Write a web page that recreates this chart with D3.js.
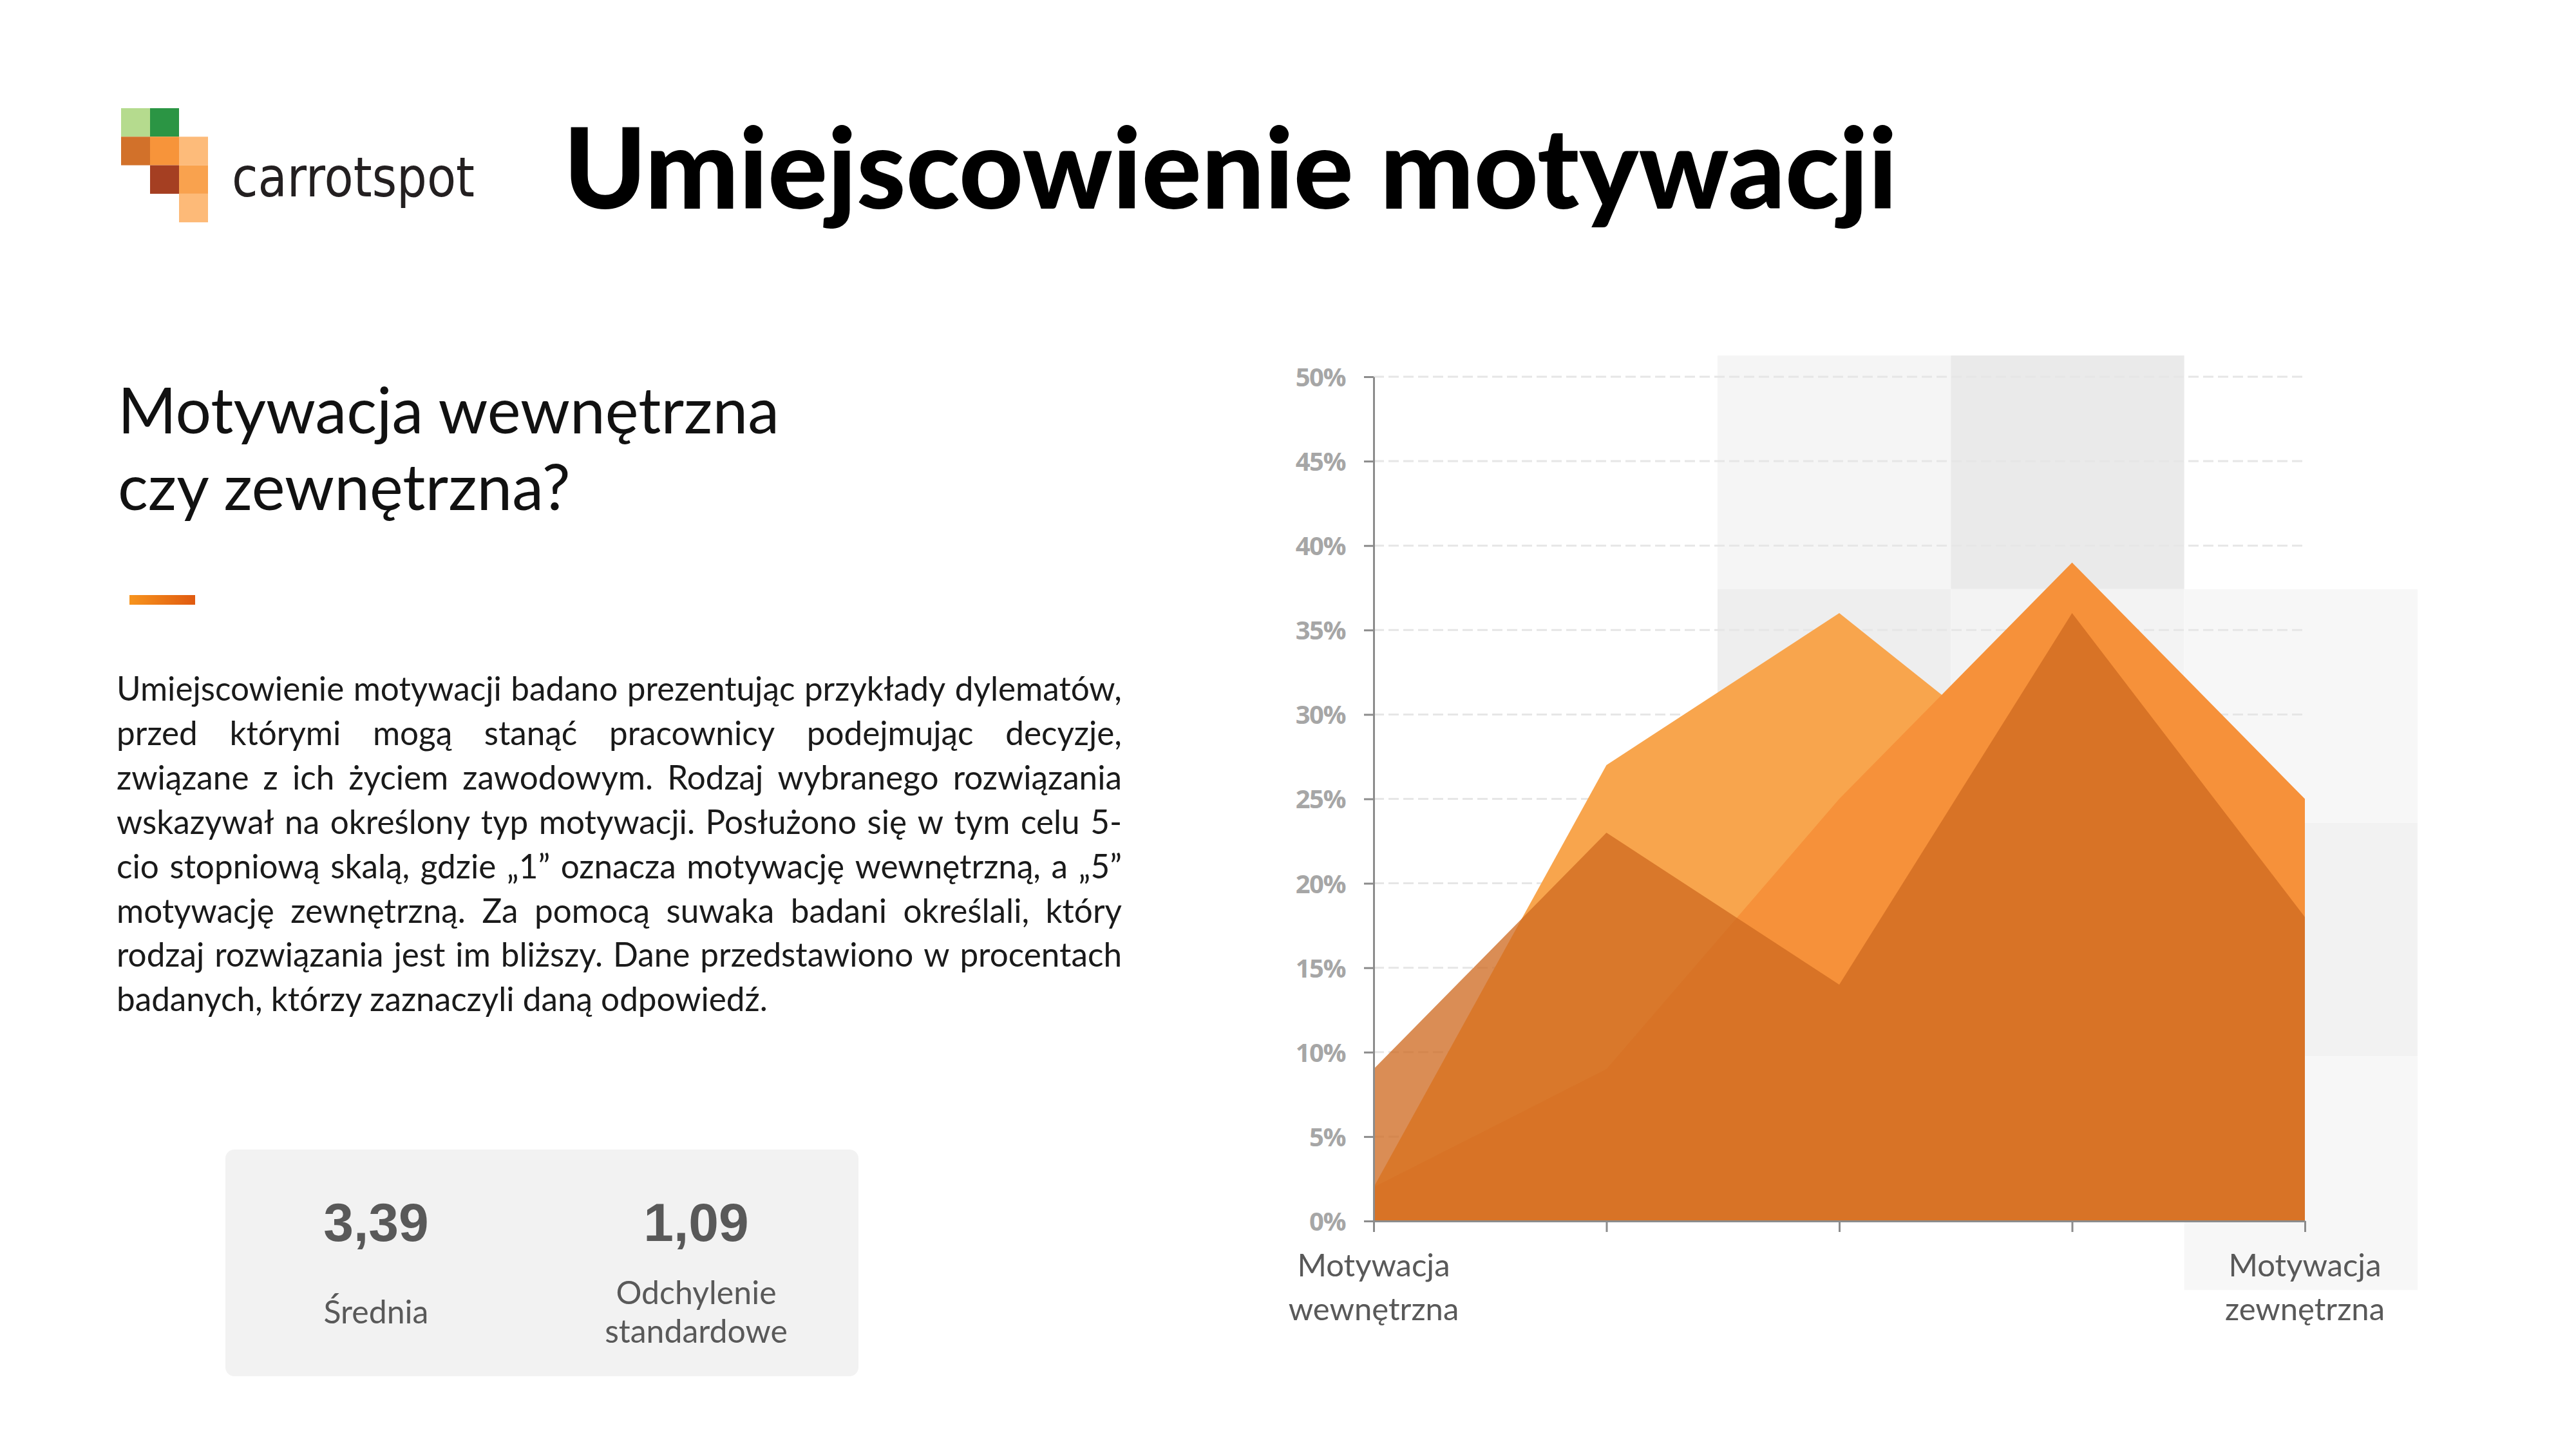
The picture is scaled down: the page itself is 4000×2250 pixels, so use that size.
<!DOCTYPE html>
<html>
<head>
<meta charset="utf-8">
<script src="https://cdn.jsdelivr.net/npm/d3@7/dist/d3.min.js"></script>
<style>
	html, body { margin: 0; padding: 0; background: #fff; }
	svg { display: block; }
</style>
</head>
<body>
<svg id="chart" width="4000" height="2250"></svg>
<script>
// data
var categories = [1, 2, 3, 4, 5];
var xLabels = [['Motywacja', 'wewnętrzna'], null, null, null, ['Motywacja', 'zewnętrzna']];
var yTicks = [0, 5, 10, 15, 20, 25, 30, 35, 40, 45, 50];
var seriesLight = [2, 27, 36, 25, 10];
var seriesMid = [2, 9, 25, 39, 25];
var seriesDark = [9, 23, 14, 36, 18];
var statValues = ['3,39', '1,09'];
var statLabels = [['Średnia'], ['Odchylenie', 'standardowe']];

var title = 'Umiejscowienie motywacji';
var subtitle = ['Motywacja wewnętrzna', 'czy zewnętrzna?'];
var paragraph = [
	'Umiejscowienie motywacji badano prezentując przykłady dylematów,',
	'przed którymi mogą stanąć pracownicy podejmując decyzje,',
	'związane z ich życiem zawodowym. Rodzaj wybranego rozwiązania',
	'wskazywał na określony typ motywacji. Posłużono się w tym celu 5-',
	'cio stopniową skalą, gdzie „1” oznacza motywację wewnętrzną, a „5”',
	'motywację zewnętrzną. Za pomocą suwaka badani określali, który',
	'rodzaj rozwiązania jest im bliższy. Dane przedstawiono w procentach',
	'badanych, którzy zaznaczyli daną odpowiedź.'
];

var svg = d3.select('#chart');
var sans = 'Lato, "Open Sans", sans-serif';

// scale a text so it spans a given width
function fitWidth(sel, target) {
	var fs = parseFloat(sel.attr('font-size'));
	var w = sel.node().getComputedTextLength();
	sel.attr('font-size', fs * target / w);
	return fs * target / w;
}

// width of a string in the paragraph font
function measure(str, fs) {
	var t = svg.append('text')
		.text(str)
		.attr('font-family', sans)
		.attr('font-size', fs);
	var w = t.node().getComputedTextLength();
	t.remove();
	return w;
}

/* Logo */
var logoCells = [
	[0, 0, '#b5db8e'], [1, 0, '#2b9544'],
	[0, 1, '#d2712a'], [1, 1, '#f7943a'], [2, 1, '#fdbb7a'],
	[1, 2, '#a53f22'], [2, 2, '#f9a24e'],
	[2, 3, '#fdba78']
];
svg.append('g')
	.attr('transform', 'translate(188,168)')
	.selectAll('rect')
	.data(logoCells)
	.enter().append('rect')
		.attr('x', function (d) { return d[0] * 45; })
		.attr('y', function (d) { return d[1] * 44.3; })
		.attr('width', 45)
		.attr('height', 44.3)
		.attr('fill', function (d) { return d[2]; });

svg.append('text')
	.text('carrotspot')
	.attr('x', 360)
	.attr('y', 305)
	.attr('font-family', '"DejaVu Sans", sans-serif')
	.attr('font-size', 86)
	.attr('fill', '#231f20')
	.attr('textLength', 377)
	.attr('lengthAdjust', 'spacingAndGlyphs');

/* Title */
svg.append('text')
	.text(title)
	.attr('x', 875)
	.attr('y', 324)
	.attr('font-family', sans)
	.attr('font-weight', 900)
	.attr('font-size', 174)
	.attr('fill', '#000')
	.attr('textLength', 2071)
	.attr('lengthAdjust', 'spacingAndGlyphs');

/* Subtitle */
var sub1 = svg.append('text')
	.text(subtitle[0])
	.attr('x', 183)
	.attr('y', 673)
	.attr('font-family', sans)
	.attr('font-size', 96)
	.attr('fill', '#111');
var subFs = fitWidth(sub1, 1027);
svg.append('text')
	.text(subtitle[1])
	.attr('x', 183)
	.attr('y', 792)
	.attr('font-family', sans)
	.attr('font-size', subFs)
	.attr('fill', '#111');

var grad = svg.append('defs').append('linearGradient').attr('id', 'dash');
grad.append('stop').attr('offset', '0%').attr('stop-color', '#f7941d');
grad.append('stop').attr('offset', '100%').attr('stop-color', '#e05a10');
svg.append('rect')
	.attr('x', 201).attr('y', 924)
	.attr('width', 102).attr('height', 15)
	.attr('fill', 'url(#dash)');

/* Paragraph, justified */
var parLeft = 181, parWidth = 1561, parTop = 1088, parLead = 68.9;
var parFs = 100 * (parWidth - 8) / measure(paragraph[0], 100);

var par = svg.append('g')
	.attr('font-family', sans)
	.attr('font-size', parFs)
	.attr('fill', '#1a1a1a');

paragraph.forEach(function (line, i) {
	var yy = parTop + i * parLead;
	if (i === paragraph.length - 1) {
		par.append('text').attr('x', parLeft).attr('y', yy).text(line);
		return;
	}
	var words = line.split(' ');
	var widths = words.map(function (w) { return measure(w, parFs); });
	var gap = (parWidth - d3.sum(widths)) / (words.length - 1);
	var xx = parLeft;
	words.forEach(function (w, k) {
		par.append('text').attr('x', xx).attr('y', yy).text(w);
		xx += widths[k] + gap;
	});
});

/* Stats box */
svg.append('rect')
	.attr('x', 350).attr('y', 1785)
	.attr('width', 983).attr('height', 352)
	.attr('rx', 14)
	.attr('fill', '#f2f2f2');

var statX = [584, 1081];
statValues.forEach(function (v, i) {
	svg.append('text')
		.text(v)
		.attr('x', statX[i])
		.attr('y', 1927)
		.attr('text-anchor', 'middle')
		.attr('font-family', '"Liberation Sans", Arial, sans-serif')
		.attr('font-weight', 700)
		.attr('font-size', 84)
		.attr('fill', '#595959');
});
var statBase = [[2055], [2025, 2085]];
statLabels.forEach(function (lines, i) {
	lines.forEach(function (l, k) {
		svg.append('text')
			.text(l)
			.attr('x', statX[i])
			.attr('y', statBase[i][k])
			.attr('text-anchor', 'middle')
			.attr('font-family', sans)
			.attr('font-size', 50)
			.attr('fill', '#595959');
	});
});

/* Chart */
var x = d3.scalePoint().domain(categories).range([2133, 3579]);
var y = d3.scaleLinear().domain([0, 50]).range([1896, 585]);

// decorative grey squares behind the chart
var sqW = 362.3, sqH = 362.8;
var squares = [
	[0, 0, '#f5f5f5'], [1, 0, '#eaeaea'],
	[0, 1, '#eeeeee'], [1, 1, '#f3f3f3'], [2, 1, '#f7f7f7'],
	[0, 2, '#efefef'], [1, 2, '#f1f1f1'], [2, 2, '#f2f2f2'],
	[2, 3, '#f7f7f7']
];
svg.append('g')
	.attr('transform', 'translate(2667,552)')
	.selectAll('rect')
	.data(squares)
	.enter().append('rect')
		.attr('x', function (d) { return d[0] * sqW; })
		.attr('y', function (d) { return d[1] * sqH; })
		.attr('width', sqW)
		.attr('height', sqH)
		.attr('fill', function (d) { return d[2]; });

// grid
svg.append('g')
	.selectAll('line')
	.data(yTicks.slice(1))
	.enter().append('line')
		.attr('x1', x(1))
		.attr('x2', x(5))
		.attr('y1', function (d) { return y(d); })
		.attr('y2', function (d) { return y(d); })
		.attr('stroke', '#e6e6e6')
		.attr('stroke-width', 3)
		.attr('stroke-dasharray', '16,7');

var area = d3.area()
	.x(function (d, i) { return x(categories[i]); })
	.y0(y(0))
	.y1(function (d) { return y(d); });

var areas = svg.append('g');
areas.append('path').datum(seriesLight).attr('d', area).attr('fill', '#f8a54d');
areas.append('path').datum(seriesMid).attr('d', area).attr('fill', '#f6913a');
areas.append('path').datum(seriesDark).attr('d', area)
	.attr('fill', '#cf6a21')
	.attr('fill-opacity', 0.765);

// axes
var yAxis = svg.append('g')
	.attr('transform', 'translate(' + x(1) + ',0)')
	.call(d3.axisLeft(y)
		.tickValues(yTicks)
		.tickFormat(function (d) { return d + '%'; })
		.tickSize(15)
		.tickSizeOuter(0)
		.tickPadding(29));

var xAxis = svg.append('g')
	.attr('transform', 'translate(0,' + y(0) + ')')
	.call(d3.axisBottom(x)
		.tickSize(17)
		.tickSizeOuter(0)
		.tickFormat(''));

[yAxis, xAxis].forEach(function (a) {
	a.select('.domain').attr('stroke', '#8c8c8c').attr('stroke-width', 3);
	a.selectAll('.tick line').attr('stroke', '#8c8c8c').attr('stroke-width', 3);
});

yAxis.selectAll('.tick text')
	.attr('font-family', '"Open Sans", sans-serif')
	.attr('font-weight', 700)
	.attr('font-size', 40)
	.attr('letter-spacing', -1.5)
	.attr('fill', '#a6a6a6')
	.attr('dy', '0.36em');

var labelG = svg.append('g')
	.attr('font-family', sans)
	.attr('font-size', 49)
	.attr('fill', '#595959')
	.attr('text-anchor', 'middle');

categories.forEach(function (c, i) {
	if (!xLabels[i]) return;
	xLabels[i].forEach(function (l, k) {
		labelG.append('text')
			.text(l)
			.attr('x', x(c))
			.attr('y', 1982 + k * 68);
	});
});
</script>
</body>
</html>
